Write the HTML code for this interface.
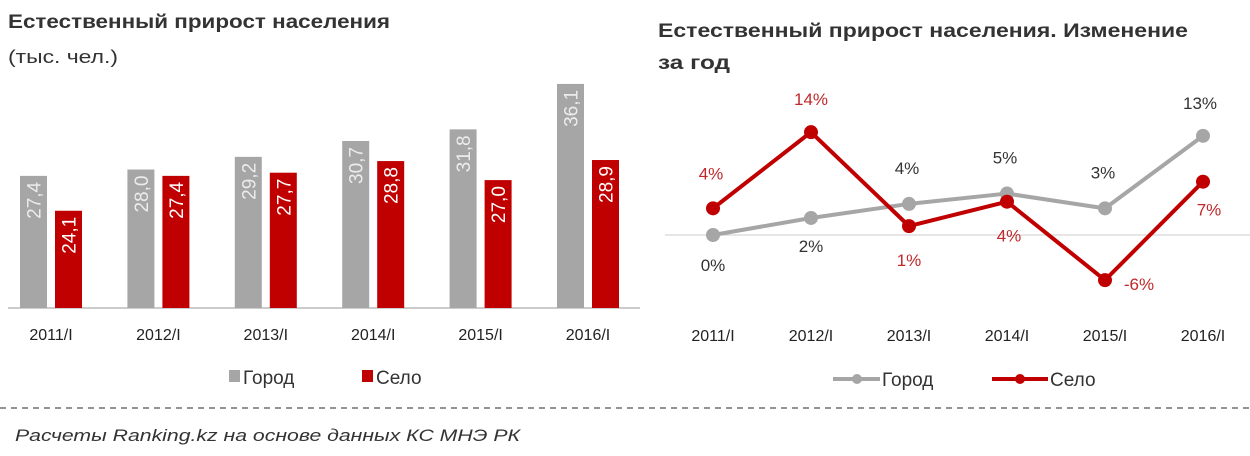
<!DOCTYPE html>
<html><head><meta charset="utf-8"><style>
body{margin:0;background:#fff;}
svg{display:block;font-family:"Liberation Sans","DejaVu Sans",sans-serif;}
</style></head><body>
<svg id="c" width="1250" height="456" viewBox="0 0 1250 456">
<text x="8" y="28" font-size="19" font-weight="bold" fill="#333" textLength="382" lengthAdjust="spacingAndGlyphs">Естественный  прирост населения</text>
<text x="8" y="63" font-size="18" fill="#333" textLength="110" lengthAdjust="spacingAndGlyphs">(тыс. чел.)</text>
<text x="658" y="37" font-size="19" font-weight="bold" fill="#333" textLength="530" lengthAdjust="spacingAndGlyphs">Естественный  прирост населения.  Изменение</text>
<text x="658" y="69" font-size="19" font-weight="bold" fill="#333" textLength="72" lengthAdjust="spacingAndGlyphs">за год</text>
<line x1="0" y1="408" x2="1250" y2="408" stroke="#555" stroke-width="1.2" stroke-dasharray="6,5"/>
<text x="15" y="441" font-size="17" font-style="italic" fill="#333" textLength="505" lengthAdjust="spacingAndGlyphs">Расчеты Ranking.kz на основе данных  КС МНЭ РК</text>
<g id="bars"></g>
<g id="lines"></g>
</svg>
<script>
const categories=["2011/I","2012/I","2013/I","2014/I","2015/I","2016/I"];
const gorodValues=[27.4,28.0,29.2,30.7,31.8,36.1];
const seloValues=[24.1,27.4,27.7,28.8,27.0,28.9];
const gorodChange=[0,2.3,4.2,5.6,3.6,13.4];
const seloChange=[3.6,13.9,1.2,4.5,-6.1,7.2];
const gorodChangeLabels=["0%","2%","4%","5%","3%","13%"];
const seloChangeLabels=["4%","14%","1%","4%","-6%","7%"];
const NS="http://www.w3.org/2000/svg";
function el(t,a,p){const e=document.createElementNS(NS,t);for(const k in a)e.setAttribute(k,a[k]);p.appendChild(e);return e;}
const bg=document.getElementById('bars');
const base=308, vmin=14.9, k=10.57;
const by=v=>base-(v-vmin)*k;
const gx=i=>20+i*107.4;
el('line',{x1:8,y1:base,x2:640,y2:base,stroke:'#bbb','stroke-width':1.5,},bg);
categories.forEach((c,i)=>{
  const x=gx(i);
  const g=el('rect',{x:x,y:by(gorodValues[i]),width:27,height:base-by(gorodValues[i]),fill:'#a6a6a6'},bg);
  
  
  const s=el('rect',{x:x+35,y:by(seloValues[i]),width:27,height:base-by(seloValues[i]),fill:'#c00000'},bg);
  
  
  [[gorodValues[i],x+13.5,'#ececec'],[seloValues[i],x+48.5,'#fff']].forEach(([v,cx,col])=>{
    const ty=by(v)+6;
    const t=el('text',{x:0,y:0,'font-size':19,fill:col,'text-anchor':'end',transform:`translate(${cx+7},${ty}) rotate(-90)`},bg);
    t.textContent=v.toFixed(1).replace('.',',');
    
    
  });
  const l=el('text',{x:x+31,y:340,'font-size':16,fill:'#222','text-anchor':'middle'},bg);
  l.textContent=c;
  
  
});
let lg=el('rect',{x:229,y:370,width:11,height:12,fill:'#a6a6a6'},bg);

lg=el('text',{x:243,y:384,'font-size':19,fill:'#333'},bg);lg.textContent='Город';

lg=el('rect',{x:362,y:370,width:11,height:12,fill:'#c00000'},bg);

lg=el('text',{x:376,y:384,'font-size':19,fill:'#333'},bg);lg.textContent='Село';

const lgp=document.getElementById('lines');
const zero=235, ks=7.4;
const ly=v=>zero-v*ks;
const lx=i=>713+i*98;
el('line',{x1:665,y1:zero,x2:1250,y2:zero,stroke:'#ccc','stroke-width':1,},lgp);
function series(vals,labels,col,name,lcol,offs){
  const p=el('polyline',{points:vals.map((v,i)=>lx(i)+','+ly(v)).join(' '),fill:'none',stroke:col,'stroke-width':4,'stroke-linejoin':'round'},lgp);
  
  
  vals.forEach((v,i)=>{
    const c=el('circle',{cx:lx(i),cy:ly(v),r:7,fill:col},lgp);
    
    
    const o=offs[i];
    const t=el('text',{x:lx(i)+o[0],y:ly(v)+o[1],'font-size':17,fill:lcol,'text-anchor':'middle'},lgp);
    t.textContent=labels[i];
    
    
  });
}
series(gorodChange,gorodChangeLabels,'#a6a6a6','gorod','#333',[[0,36],[0,34],[-2,-30],[-2,-30],[-2,-30],[-3,-27]]);
series(seloChange,seloChangeLabels,'#c00000','selo','#c0282a',[[-2,-29],[0,-27],[0,40],[2,40],[34,10],[6,34]]);
categories.forEach((c,i)=>{
  const l=el('text',{x:lx(i),y:341,'font-size':16,fill:'#222','text-anchor':'middle'},lgp);
  l.textContent=c;
  
  
});
el('line',{x1:833,y1:379,x2:880,y2:379,stroke:'#a6a6a6','stroke-width':4,},lgp);
el('circle',{cx:857,cy:379,r:5,fill:'#a6a6a6',},lgp);
lg=el('text',{x:882,y:386,'font-size':19,fill:'#333'},lgp);lg.textContent='Город';

el('line',{x1:992,y1:379,x2:1048,y2:379,stroke:'#c00000','stroke-width':4,},lgp);
el('circle',{cx:1020,cy:379,r:5,fill:'#c00000',},lgp);
lg=el('text',{x:1050,y:386,'font-size':19,fill:'#333'},lgp);lg.textContent='Село';

</script>
</body></html>
